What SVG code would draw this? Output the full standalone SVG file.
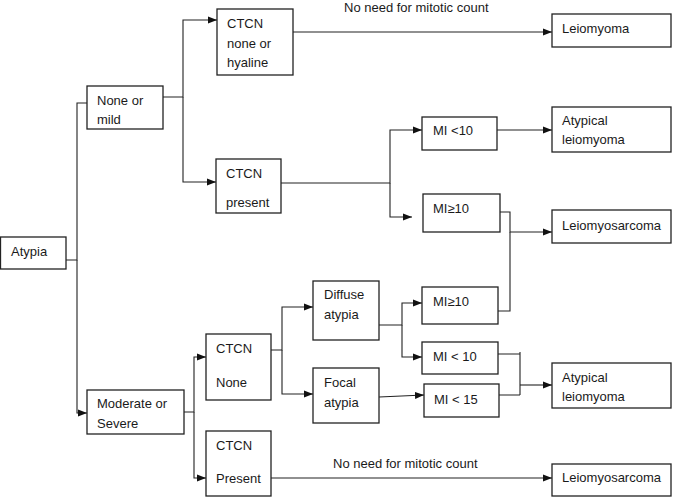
<svg xmlns="http://www.w3.org/2000/svg" width="673" height="497" viewBox="0 0 673 497">
<style>
rect.box{fill:#fff;stroke:#222;stroke-width:1.3}
text{font-family:"Liberation Sans",Arial,sans-serif;font-size:13px;fill:#1a1a1a}
.c path{fill:none;stroke:#222;stroke-width:1.1}
</style>
<defs>
<marker id="ah" markerUnits="userSpaceOnUse" markerWidth="10" markerHeight="8" refX="9" refY="4" orient="auto">
<path d="M0,0.5 L9,4 L0,7.5 z" fill="#111"/>
</marker>
</defs>
<rect width="673" height="497" fill="#fff"/>
<g class="c" id="connectors">
<path d="M66,260 H77 V103 H87"/>
<path d="M77,260 V413 H87" marker-end="url(#ah)"/>
<path d="M163,97 H183 V20 H217" marker-end="url(#ah)"/>
<path d="M183,97 V182 H216" marker-end="url(#ah)"/>
<path d="M293,32 H552" marker-end="url(#ah)"/>
<path d="M281,183 H390 V130 H422" marker-end="url(#ah)"/>
<path d="M390,183 V217 H412" marker-end="url(#ah)"/>
<path d="M497,130 H552" marker-end="url(#ah)"/>
<path d="M500,212 H510 V232 H552" marker-end="url(#ah)"/>
<path d="M498,311 H510 V232"/>
<path d="M184,412 H194 V357 H206" marker-end="url(#ah)"/>
<path d="M194,412 V478 H206" marker-end="url(#ah)"/>
<path d="M271,350 H282 V307 H313" marker-end="url(#ah)"/>
<path d="M282,350 V394 H313" marker-end="url(#ah)"/>
<path d="M379,325 H402 V303 H422" marker-end="url(#ah)"/>
<path d="M402,325 V357 H422" marker-end="url(#ah)"/>
<path d="M379,397 L424,395" marker-end="url(#ah)"/>
<path d="M498,354 H520 M520,352 V395 M498,395 H520"/>
<path d="M520,385 H552" marker-end="url(#ah)"/>
<path d="M271,478 H552" marker-end="url(#ah)"/>
</g>
<g id="atypia"><rect class="box" x="0.5" y="237" width="65.5" height="32"/><text x="11" y="256">Atypia</text></g>
<g id="none_mild"><rect class="box" x="87" y="86" width="76" height="43"/><text x="97" y="105">None or</text><text x="97" y="124">mild</text></g>
<g id="ctcn_none_hyaline"><rect class="box" x="217" y="9" width="76" height="66"/><text x="227" y="28">CTCN</text><text x="227" y="48">none or</text><text x="227" y="67">hyaline</text></g>
<g id="ctcn_present_top"><rect class="box" x="216" y="159" width="65" height="54"/><text x="226" y="178">CTCN</text><text x="226" y="207">present</text></g>
<g id="mi_lt10_top"><rect class="box" x="422" y="117" width="75" height="33"/><text x="433" y="135">MI &lt;10</text></g>
<g id="mi_ge10_top"><rect class="box" x="423" y="194" width="77" height="38"/><text x="433" y="213">MI≥10</text></g>
<g id="leiomyoma"><rect class="box" x="552" y="14" width="119" height="33"/><text x="562" y="33">Leiomyoma</text></g>
<g id="atypical_top"><rect class="box" x="552" y="107" width="119" height="45"/><text x="562" y="125">Atypical</text><text x="562" y="144">leiomyoma</text></g>
<g id="leiomyosarcoma_top"><rect class="box" x="552" y="210" width="119" height="33"/><text x="562" y="230">Leiomyosarcoma</text></g>
<g id="moderate"><rect class="box" x="87" y="390" width="97" height="44"/><text x="97" y="408">Moderate or</text><text x="97" y="428">Severe</text></g>
<g id="ctcn_none"><rect class="box" x="206" y="334" width="65" height="66"/><text x="216" y="353">CTCN</text><text x="216" y="387">None</text></g>
<g id="ctcn_present_bottom"><rect class="box" x="206" y="431" width="65" height="65"/><text x="216" y="450">CTCN</text><text x="216" y="483">Present</text></g>
<g id="diffuse"><rect class="box" x="313" y="281" width="66" height="59"/><text x="324" y="299">Diffuse</text><text x="324" y="319">atypia</text></g>
<g id="focal"><rect class="box" x="313" y="368" width="66" height="55"/><text x="324" y="387">Focal</text><text x="324" y="407">atypia</text></g>
<g id="mi_ge10_low"><rect class="box" x="422" y="287" width="76" height="37"/><text x="433" y="306">MI≥10</text></g>
<g id="mi_lt10_low"><rect class="box" x="422" y="342" width="76" height="32"/><text x="433" y="361">MI &lt; 10</text></g>
<g id="mi_lt15"><rect class="box" x="424" y="384" width="75" height="33"/><text x="434" y="404">MI &lt; 15</text></g>
<g id="atypical_low"><rect class="box" x="552" y="363" width="119" height="45"/><text x="562" y="382">Atypical</text><text x="562" y="401">leiomyoma</text></g>
<g id="leiomyosarcoma_low"><rect class="box" x="552" y="464" width="119" height="32"/><text x="562" y="482">Leiomyosarcoma</text></g>
<g id="labels"><text x="344" y="12">No need for mitotic count</text><text x="333" y="468">No need for mitotic count</text></g>
</svg>
